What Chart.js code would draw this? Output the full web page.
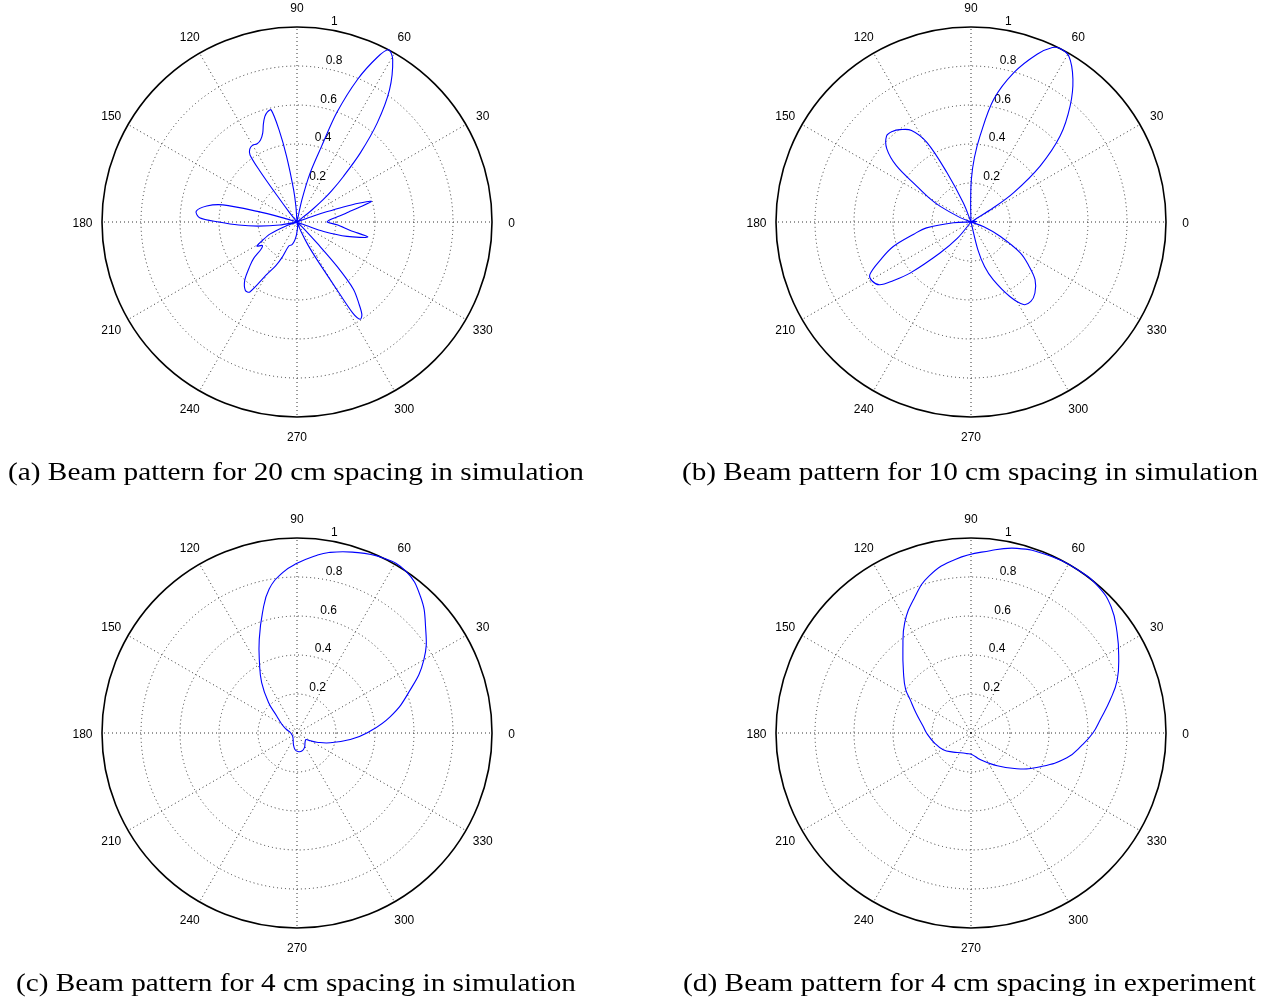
<!DOCTYPE html>
<html>
<head>
<meta charset="utf-8">
<script src="https://cdn.jsdelivr.net/npm/chart.js@4.4.1/dist/chart.umd.min.js"></script>
<style>
  html, body { margin:0; padding:0; background:#fff; }
  body { width:1271px; height:1002px; position:relative; overflow:hidden; }
  canvas.plot { position:absolute; }
  #pa { left:57px; top:-18px; }
  #pb { left:731px; top:-18px; }
  #pc { left:57px; top:493px; }
  #pd { left:731px; top:493px; }
  .cap { position:absolute; height:30px; line-height:30px; font-family:"Liberation Serif","Times New Roman",serif;
         font-size:26px; color:#000; white-space:nowrap; }
  .cap span { display:inline-block; transform-origin:0 50%; }
  #ca { left:8px;   top:457px; width:576px; }
  #cb { left:682px; top:457px; width:576px; }
  #cc { left:16px;  top:968px; width:560px; }
  #cd { left:683px; top:968px; width:573px; }
</style>
</head>
<body>
<canvas id="pa" class="plot" width="480" height="480"></canvas>
<canvas id="pb" class="plot" width="480" height="480"></canvas>
<canvas id="pc" class="plot" width="480" height="480"></canvas>
<canvas id="pd" class="plot" width="480" height="480"></canvas>
<div id="ca" class="cap"><span></span></div>
<div id="cb" class="cap"><span></span></div>
<div id="cc" class="cap"><span></span></div>
<div id="cd" class="cap"><span></span></div>
<script>
// ---- tick labels ----
const angleTicks = [0, 30, 60, 90, 120, 150, 180, 210, 240, 270, 300, 330];
const radiusTicks = [0.2, 0.4, 0.6, 0.8, 1];
const radiusTickLabels = ['0.2', '0.4', '0.6', '0.8', '1'];

// ---- (a) 20 cm spacing, simulation: angle (deg) / normalised amplitude ----
const anglesA = [0, 4, 8, 11, 13, 15.5, 17, 18, 19, 20, 21.5, 37, 39, 40.5, 42, 44.5, 47.5, 51, 55, 59.5, 62, 64, 67, 70, 72, 75, 77.5, 80,
  91, 94, 96, 99, 101, 103, 105, 107, 109, 111, 114, 117, 120, 123, 125, 126, 127, 128.5, 130,
  162, 163.5, 165, 167, 170, 174, 177.5, 180, 183, 186, 190, 195,
  200, 204, 208, 211, 214, 217, 220, 223, 228, 233, 236, 240, 244, 247, 251, 257, 262, 267, 272, 280, 290,
  293, 295.5, 298, 300.5, 301.5, 303, 305, 307, 310, 312, 313.5, 316, 318,
  338, 339.5, 340.5, 344, 348, 351, 356];
const radiiA = [0.155, 0.17, 0.22, 0.27, 0.32, 0.396, 0.33, 0.25, 0.16, 0.09, 0, 0, 0.1, 0.178, 0.24, 0.335, 0.481, 0.654, 0.827, 0.967, 1.0, 0.94, 0.794, 0.597, 0.409, 0.261, 0.117, 0,
  0, 0.08, 0.167, 0.34, 0.48, 0.59, 0.585, 0.565, 0.53, 0.49, 0.46, 0.45, 0.455, 0.445, 0.42, 0.33, 0.17, 0.06, 0,
  0, 0.07, 0.21, 0.39, 0.47, 0.52, 0.5, 0.4, 0.3, 0.2, 0.09, 0,
  0.06, 0.15, 0.2, 0.24, 0.215, 0.23, 0.29, 0.33, 0.4, 0.44, 0.433, 0.31, 0.25, 0.2, 0.13, 0.12, 0.1, 0.07, 0.04, 0.02, 0,
  0.05, 0.13, 0.22, 0.4, 0.55, 0.595, 0.58, 0.53, 0.45, 0.31, 0.15, 0.05, 0,
  0, 0.054, 0.145, 0.267, 0.371, 0.277, 0.206];

// ---- (b) 10 cm spacing, simulation ----
const anglesB = [0, 5, 12, 20, 30.5, 32.5, 34.5, 39, 44, 49.5, 54.5, 59.5, 63, 65, 68.5, 74, 79.5, 84, 87, 89.5, 91, 92,
  109, 112, 116, 119, 123, 127.5, 131, 134.5, 139, 143, 146.5, 150, 153, 158, 162,
  179, 182.5, 187.5, 192, 197.5, 202.5, 207.5, 211, 214.5, 217, 220, 225, 230, 236,
  281, 284, 287, 291, 297.5, 302.5, 307, 312, 318, 323, 328, 334, 340, 345, 355];
const radiiB = [0.02, 0.03, 0.02, 0.01, 0, 0.136, 0.264, 0.456, 0.636, 0.783, 0.9, 0.988, 1.0, 0.987, 0.925, 0.797, 0.64, 0.444, 0.33, 0.22, 0.1, 0,
  0, 0.106, 0.282, 0.467, 0.56, 0.597, 0.615, 0.618, 0.572, 0.478, 0.334, 0.25, 0.179, 0.06, 0,
  0, 0.09, 0.23, 0.3, 0.418, 0.5, 0.585, 0.59, 0.568, 0.5, 0.408, 0.225, 0.11, 0,
  0, 0.15, 0.24, 0.317, 0.431, 0.502, 0.51, 0.49, 0.442, 0.37, 0.298, 0.166, 0.07, 0, 0.01];

// ---- (c) 4 cm spacing, simulation ----
const anglesC = [0, 10, 20, 30, 40, 48, 56, 64, 73, 80, 84, 90, 95, 101, 106, 112, 118, 125, 133, 140, 150, 160, 175,
  196, 225, 245, 253, 263, 273, 285, 297, 310, 318, 324, 330, 335, 343.5, 353];
const radiiC = [0.358, 0.486, 0.61, 0.751, 0.86, 0.945, 1.0, 1.0, 0.97, 0.94, 0.914, 0.87, 0.827, 0.751, 0.642, 0.517, 0.41, 0.316, 0.214, 0.136, 0.09, 0.06, 0.035,
  0.028, 0.03, 0.046, 0.062, 0.085, 0.095, 0.096, 0.084, 0.064, 0.058, 0.057, 0.08, 0.112, 0.177, 0.275];

// ---- (d) 4 cm spacing, experiment ----
const anglesD = [0, 6, 13.5, 20, 27.5, 34.5, 42, 49, 57, 67, 76, 84, 95, 105, 113, 121, 129, 138, 146, 151, 160, 172, 180,
  196, 211, 227, 242, 258, 272, 289, 305, 322, 334, 345.5, 354];
const radiiD = [0.625, 0.667, 0.735, 0.798, 0.854, 0.909, 0.967, 0.995, 1.0, 0.993, 0.976, 0.94, 0.895, 0.833, 0.748, 0.66, 0.555, 0.466, 0.405, 0.358, 0.3, 0.248, 0.228,
  0.193, 0.166, 0.134, 0.115, 0.108, 0.11, 0.144, 0.198, 0.298, 0.395, 0.508, 0.575];

const captions = [
  '(a) Beam pattern for 20 cm spacing in simulation',
  '(b) Beam pattern for 10 cm spacing in simulation',
  '(c) Beam pattern for 4 cm spacing in simulation',
  '(d) Beam pattern for 4 cm spacing in experiment'
];

// ---- radar categories at 0.5 deg, running clockwise on screen (i.e. decreasing polar angle) ----
const STEPS = 720;
const categoryLabels = Array.from({length: STEPS}, (_, i) => String(((STEPS - i) % STEPS) / 2));
function toSeries(angles, radii) {
  const d = new Array(STEPS).fill(null);
  angles.forEach((a, k) => { d[Math.round((360 - a) * 2) % STEPS] = radii[k]; });
  return d;
}

const polarText = {
  id: 'polarText',
  beforeDatasetsDraw(chart) {
    const s = chart.scales.r, ctx = chart.ctx;
    const cx = s.xCenter, cy = s.yCenter;
    ctx.save();
    ctx.fillStyle = '#000';
    ctx.font = '12px "Liberation Sans", Arial, Helvetica, sans-serif';
    ctx.textAlign = 'center';
    ctx.textBaseline = 'middle';
    const dl = s.getDistanceFromCenterForValue(1.1);
    angleTicks.forEach(a => {
      const t = a * Math.PI / 180;
      ctx.fillText(String(a), cx + dl * Math.cos(t), cy - dl * Math.sin(t) + 1.5);
    });
    ctx.textAlign = 'left';
    ctx.textBaseline = 'alphabetic';
    const t82 = 82 * Math.PI / 180;
    radiusTicks.forEach((v, k) => {
      const d = s.getDistanceFromCenterForValue(v + 0.01);
      ctx.fillText('  ' + radiusTickLabels[k], cx + d * Math.cos(t82), cy - d * Math.sin(t82) - 1.5);
    });
    ctx.restore();
  }
};

function makeChart(id, angles, radii, tension) {
  return new Chart(document.getElementById(id), {
    type: 'radar',
    data: {
      labels: categoryLabels,
      datasets: [{
        data: toSeries(angles, radii),
        borderColor: '#0000ff',
        borderWidth: 1.1,
        pointRadius: 0,
        pointHitRadius: 0,
        fill: false,
        spanGaps: true,
        tension: tension,
        clip: false
      }]
    },
    options: {
      responsive: false,
      animation: false,
      events: [],
      layout: { padding: 45 },
      plugins: { legend: { display: false }, tooltip: { enabled: false } },
      scales: {
        r: {
          min: 0, max: 1, startAngle: 90,
          ticks: { display: false, stepSize: 0.2 },
          pointLabels: { display: false },
          grid: {
            circular: true,
            color: c => (c.tick && c.tick.value > 0.99) ? '#000000' : '#333333',
            lineWidth: c => (c.tick && c.tick.value > 0.99) ? 1.6 : 1
          },
          border: { dash: c => (c.tick && c.tick.value > 0.99) ? [] : [1, 3] },
          angleLines: {
            color: '#333333',
            lineWidth: c => (c.index % 60 === 0) ? 1 : 0,
            borderDash: [1, 3]
          }
        }
      }
    },
    plugins: [polarText]
  });
}

makeChart('pa', anglesA, radiiA, 0.3);
makeChart('pb', anglesB, radiiB, 0.35);
makeChart('pc', anglesC, radiiC, 0.45);
makeChart('pd', anglesD, radiiD, 0.45);

['ca', 'cb', 'cc', 'cd'].forEach((id, k) => {
  const box = document.getElementById(id);
  const span = box.querySelector('span');
  span.textContent = captions[k];
  const w = span.getBoundingClientRect().width;
  span.style.transform = 'scaleX(' + (box.clientWidth / w) + ')';
});
</script>
</body>
</html>
